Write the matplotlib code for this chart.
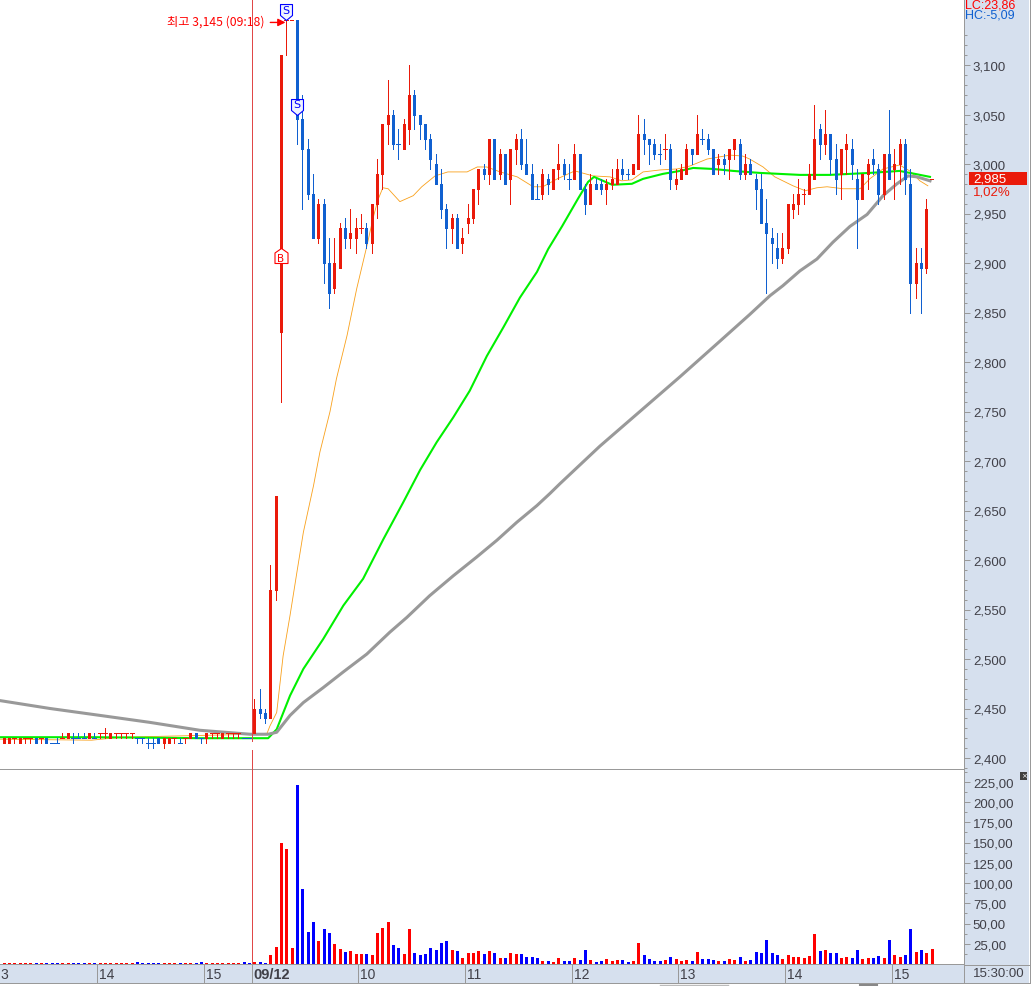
import numpy as np
import matplotlib
matplotlib.use('Agg')
import matplotlib.pyplot as plt
from matplotlib.path import Path
from matplotlib.patches import Rectangle
from matplotlib.lines import Line2D
from matplotlib.transforms import blended_transform_factory

W, H = 1031, 987

# previous session (3 minute bars, index -48 .. -1)
prev_high = [2420, 2420, 2420, 2420, 2420, 2420, 2420, 2420, 2420, 2420,
             2415, 2420, 2425, 2425, 2425, 2425, 2425, 2425, 2425, 2425,
             2430, 2425, 2425, 2425, 2425, 2425, 2420, 2420, 2420, 2420,
             2420, 2420, 2420, 2420, 2420, 2420, 2425, 2425, 2420, 2425,
             2425, 2425, 2425, 2425, 2425, 2425, 2420, 2420]
prev_low = [2415, 2415, 2415, 2415, 2415, 2415, 2415, 2415, 2415, 2415,
            2415, 2415, 2420, 2420, 2415, 2420, 2420, 2420, 2420, 2420,
            2420, 2420, 2420, 2420, 2420, 2420, 2415, 2415, 2410, 2410,
            2415, 2410, 2415, 2415, 2415, 2415, 2420, 2420, 2415, 2415,
            2420, 2420, 2420, 2420, 2420, 2420, 2420, 2420]
prev_top = [2420, 2420, 2420, 2420, 2420, 2420, 2420, 2420, 2420, 2420,
            2415, 2415, 2420, 2425, 2420, 2420, 2420, 2425, 2420, 2425,
            2425, 2425, 2425, 2425, 2425, 2425, 2420, 2420, 2415, 2415,
            2420, 2420, 2420, 2420, 2415, 2420, 2425, 2425, 2420, 2425,
            2425, 2425, 2425, 2425, 2425, 2425, 2420, 2420]
prev_bot = [2415, 2415, 2415, 2420, 2415, 2420, 2420, 2415, 2420, 2415,
            2415, 2415, 2420, 2420, 2420, 2420, 2420, 2420, 2420, 2425,
            2425, 2420, 2425, 2425, 2425, 2425, 2420, 2420, 2415, 2415,
            2415, 2415, 2415, 2420, 2415, 2420, 2420, 2420, 2420, 2420,
            2425, 2425, 2420, 2425, 2425, 2425, 2420, 2420]
prev_dir = 'brrrrrrbrb' 'bbrrbbbrbr' 'rrrrrrbbbb' 'brrrbrrbbr' 'rrrrrrbb'
prev_vol = [1.2, 1.2, 1.2, 1.2, 1.2, 1.2, 1.2, 1.2, 1.2, 1.2,
            1.2, 1.2, 1.2, 1.2, 1.2, 1.2, 1.2, 1.2, 1.2, 1.2,
            1.2, 1.2, 1.2, 1.2, 1.2, 1.2, 3.0, 1.2, 1.2, 1.2,
            1.2, 1.2, 1.2, 1.2, 1.2, 1.2, 1.2, 1.2, 3.0, 1.2,
            1.2, 1.2, 1.2, 1.2, 1.2, 1.2, 3.0, 1.6]

# 09/12 session (index 0 .. 127)
day_high = [2460, 2470, 2450, 2595, 2665, 3110, 3145, 3145, 3145, 3070,
            3025, 2990, 2965, 2965, 2925, 2925, 2940, 2945, 2955, 2945,
            2950, 2940, 2960, 3005, 3040, 3085, 3055, 3035, 3045, 3100,
            3075, 3050, 3040, 3030, 3010, 2995, 2960, 2950, 2950, 2935,
            2960, 2975, 2995, 3000, 3025, 3025, 3015, 3010, 3015, 3030,
            3035, 3025, 3000, 2980, 2995, 2990, 2995, 3020, 3005, 3000,
            3020, 3010, 2980, 2990, 2985, 2985, 2985, 2995, 3005, 3005,
            2995, 3000, 3050, 3045, 3025, 3025, 3020, 3030, 3020, 2995,
            3000, 3020, 3015, 3050, 3035, 3030, 3015, 3010, 3010, 3015,
            3025, 3025, 3010, 3005, 2990, 2990, 2965, 2935, 2930, 2930,
            2960, 2970, 2985, 2975, 3000, 3060, 3040, 3055, 3030, 3020,
            3015, 3030, 3025, 2995, 2990, 3005, 3015, 3000, 3010, 3055,
            3015, 3025, 3025, 2995, 2915, 2915, 2965, 2985]
day_low = [2425, 2440, 2435, 2440, 2560, 2760, 3110, 3145, 3020, 2955,
           2965, 2925, 2920, 2880, 2855, 2870, 2895, 2915, 2915, 2910,
           2930, 2915, 2910, 2945, 2975, 3020, 3015, 3005, 3015, 3020,
           3035, 3025, 3015, 2995, 2980, 2945, 2915, 2920, 2915, 2910,
           2930, 2940, 2960, 2985, 2980, 2985, 2985, 2980, 2960, 3000,
           2995, 2990, 2965, 2965, 2965, 2970, 2975, 2985, 2985, 2975,
           2985, 2975, 2950, 2960, 2975, 2970, 2960, 2975, 2980, 2985,
           2985, 2990, 2995, 3010, 3000, 3005, 3000, 3005, 2975, 2975,
           2985, 2990, 3000, 3010, 3020, 3010, 2990, 2990, 2990, 2985,
           3005, 2985, 2985, 2990, 2955, 2940, 2870, 2900, 2895, 2900,
           2910, 2945, 2950, 2960, 2970, 2985, 3005, 3010, 2990, 2970,
           2965, 2990, 2985, 2915, 2965, 2975, 2990, 2960, 2965, 2985,
           2965, 2980, 2970, 2850, 2865, 2850, 2890, 2985]
day_top = [2450, 2450, 2445, 2570, 2665, 3110, 3145, 3145, 3145, 3045,
           3015, 2970, 2960, 2960, 2900, 2900, 2935, 2935, 2930, 2935,
           2935, 2935, 2960, 2990, 3040, 3050, 3050, 3020, 3040, 3070,
           3070, 3050, 3040, 3025, 3000, 2980, 2955, 2945, 2945, 2925,
           2945, 2975, 2995, 2995, 3025, 3025, 3010, 3010, 3015, 3025,
           3025, 3000, 2990, 2965, 2990, 2985, 2995, 3000, 3000, 2985,
           3010, 3010, 2975, 2980, 2980, 2980, 2980, 2985, 2995, 2995,
           2990, 3000, 3030, 3030, 3025, 3020, 3010, 3015, 3015, 2985,
           2995, 3015, 3015, 3030, 3025, 3025, 3015, 3005, 3005, 3015,
           3025, 3020, 3000, 3000, 2985, 2975, 2940, 2925, 2915, 2915,
           2960, 2960, 2970, 2970, 2990, 3025, 3035, 3030, 3030, 3005,
           3015, 3020, 3015, 2985, 2990, 3000, 3005, 2995, 3010, 3010,
           3000, 3020, 3020, 2980, 2900, 2900, 2955, 2985]
day_bot = [2425, 2445, 2440, 2440, 2570, 2830, 3145, 3145, 3045, 3015,
           2970, 2925, 2925, 2900, 2870, 2875, 2895, 2925, 2925, 2925,
           2935, 2920, 2920, 2960, 2990, 3040, 3020, 3020, 3015, 3035,
           3050, 3040, 3025, 3005, 2980, 2955, 2935, 2935, 2915, 2920,
           2940, 2945, 2975, 2990, 2990, 2985, 2990, 2980, 2985, 3015,
           3000, 2990, 2965, 2965, 2970, 2980, 2975, 2995, 2990, 2985,
           2985, 2975, 2960, 2960, 2975, 2975, 2975, 2980, 2980, 2990,
           2990, 2990, 2995, 3025, 3020, 3010, 3010, 3015, 2985, 2980,
           2985, 2990, 3010, 3010, 3025, 3015, 2990, 3000, 3000, 3005,
           3015, 2990, 2990, 2990, 2975, 2940, 2930, 2920, 2905, 2905,
           2915, 2955, 2960, 2970, 2970, 2985, 3020, 3020, 3005, 2985,
           2990, 3015, 3000, 2965, 2965, 2990, 3000, 2970, 2970, 2985,
           2995, 3000, 2985, 2880, 2880, 2895, 2895, 2985]
day_dir = ('rbbrrrrrbb' 'bbrbbrrbrr' 'rbrrrrbbrr' 'bbbbbbbrbr'
           'rrrbrbrbrr' 'bbbbrbrrbb' 'rbbrbbrrrb' 'brrbbbbrbr'
           'rrbrbbbrbr' 'rbrbbbbbbr' 'rrrrrrbrbb' 'rrbbrrbbrb'
           'rrbbrbrr')
day_vol = [2.5, 2.5, 1.2, 11, 21, 149, 142, 20, 221, 92.6,
           39.5, 52, 28.4, 43, 38, 24.7, 18.5, 15, 16, 12.3,
           12.3, 12.3, 11, 38, 44, 52, 23.5, 20, 12, 43,
           13.6, 11, 12, 20, 17, 26, 28, 17, 16, 7.4,
           13.6, 13.6, 16, 12, 16, 13.6, 7.4, 7.4, 13.6, 12,
           12, 8.6, 8.6, 7.4, 3.7, 3.7, 2.5, 7.4, 3.7, 3.7,
           7.4, 5, 17, 5, 2.5, 3.7, 6, 3.7, 5, 5,
           2.5, 3.7, 26, 11, 6, 3.7, 3.7, 5, 8.6, 6,
           3.7, 5, 3.7, 15, 6, 6, 5, 3.7, 3.7, 6,
           5, 8.6, 3.7, 5, 15, 13.6, 30, 13.6, 11, 6,
           11, 8.6, 8.6, 7.4, 10, 37, 16, 17, 13.6, 13.6,
           7.4, 8.6, 7.4, 17, 6, 7.4, 7.4, 10, 7.4, 30,
           11, 8.6, 11, 43, 15, 17, 13.6, 18.5]

# moving averages, read as bar index / price pairs
gray_x = [-47.7, -38.3, -28.9, -19.6, -10.2, -0.8, 2.6, 4.2, 6.7, 9.2, 12.9, 16.7, 21.1,
          25.4, 28.6, 32.9, 37.3, 41.7, 45.5, 49.2, 53, 55.4, 57.3, 64.8, 72.3, 79.8,
          87.3, 92.9, 96.7, 99.1, 102.3, 105.5, 108.5, 111.7, 114.9, 117.9, 120.5,
          122.6, 124.3, 126.7]
gray_y = [2458, 2450, 2443, 2436, 2428, 2424, 2424, 2426, 2443, 2456, 2471, 2487, 2505,
          2527, 2542, 2564, 2584, 2603, 2620, 2638, 2655, 2667, 2677, 2715, 2750, 2785,
          2821, 2848, 2867, 2877, 2892, 2904, 2921, 2937, 2949, 2968, 2980,
          2988, 2987, 2983]
green_x = [-47.7, -30, -10, 2.6, 4.2, 6.7, 9.2, 12.9, 16.7, 20.4, 24.2, 27.9, 31.1, 34.2,
           37.3, 40.4, 43.6, 46.7, 49.8, 53, 55.1, 57.7, 60.7, 62.6, 63.7, 67.1, 70.8,
           72.9, 76.6, 79.8, 82.3, 86, 89.8, 94.8, 102.3, 107.9, 115.4, 121, 123.9, 126.7]
green_y = [2421, 2421, 2420, 2420, 2429, 2463, 2490, 2520, 2554, 2581, 2621, 2658, 2691,
           2719, 2744, 2771, 2806, 2835, 2865, 2891, 2914, 2937, 2965, 2982, 2987, 2979,
           2980, 2985, 2990, 2993, 2996, 2995, 2993, 2991, 2989, 2989, 2991, 2993, 2990, 2987]
orange_x = [-47.7, -30.5, -25, 0, 2.4, 2.9, 4.2, 5.4, 6.7, 8, 9.2, 11.1, 12.3, 14.2, 15.4,
            17.4, 19.2, 21.1, 22.3, 23.2, 24.1, 25.1, 27.3, 29.8, 31.4, 33.9, 36.3, 39.9,
            41.8, 43.6, 46.1, 49.3, 52.3, 54.1, 56.8, 60.1, 63.5, 66.7, 68.9, 70.8, 72.9,
            76.1, 79.3, 81.7, 84.9, 89.2, 91.6, 92.9, 95.4, 97.6, 101, 103.3, 105.5, 107.4,
            110.4, 113.6, 115.4, 117.9, 121, 122.9, 124.8, 126.3]
orange_y = [2419, 2418, 2421, 2424, 2425, 2432, 2446, 2503, 2544, 2588, 2628, 2675, 2709,
            2750, 2783, 2827, 2874, 2917, 2946, 2964, 2976, 2975, 2962, 2968, 2977, 2988,
            2992, 2992, 2997, 2997, 2992, 2987, 2977, 2977, 2985, 2993, 2988, 2987, 2983,
            2984, 2992, 2994, 2995, 2998, 3005, 3009, 3008, 3005, 2997, 2987, 2978, 2973,
            2976, 2977, 2975, 2975, 2985, 2995, 2999, 2993, 2983, 2978]

price_ticks = list(range(2400, 3101, 50))
vol_ticks = [25, 50, 75, 100, 125, 150, 175, 200, 225]
time_pos = [-29, -9, 0, 20, 40, 60, 80, 100, 120]
time_labels = ['14', '15', '09/12', '10', '11', '12', '13', '14', '15']

# trade signals: bar index, price at the marker tip, letter
sell_signals = [(6, 3145, 'S'), (8, 3050, 'S')]
buy_signals = [(5, 2915, 'B')]
last_price = 2985

RED, BLUE = '#ea1a0a', '#1060d0'
VOL_RED, VOL_BLUE = '#ff0000', '#0000ff'
PANEL = '#d6e0ee'
EDGE = '#999999'
TEXT = '#404048'
TICK_FONT = ['Liberation Sans Narrow', 'Liberation Sans']
KR_FONT = ['Noto Sans CJK KR', 'DejaVu Sans']
ONE_PX = 0.72


def px_rect(left, top, right, bottom):
    return [left / W, 1 - bottom / H, (right - left) / W, (bottom - top) / H]


def draw_candles(ax, idx, high, low, top, bot, colors):
    ax.vlines(idx, low, high, colors=colors, lw=ONE_PX, zorder=3, antialiased=False)
    solid = top > bot
    ax.vlines(idx[solid], bot[solid], top[solid], colors=colors[solid], lw=3 * ONE_PX,
              zorder=3, antialiased=False, capstyle='butt')
    ax.hlines(top[~solid], idx[~solid] - 0.35, idx[~solid] + 0.35,
              colors=colors[~solid], lw=ONE_PX, zorder=3, antialiased=False)


idx = np.arange(-48, 128)
high = np.array(prev_high + day_high, dtype=float)
low = np.array(prev_low + day_low, dtype=float)
top = np.array(prev_top + day_top, dtype=float)
bot = np.array(prev_bot + day_bot, dtype=float)
dirs = np.array(list(prev_dir + day_dir))
vol = np.array(prev_vol + day_vol, dtype=float)
candle_colors = np.where(dirs == 'r', RED, BLUE)
vol_colors = np.where(dirs == 'r', VOL_RED, VOL_BLUE)

x0 = (0 - 254.3) / 5.333
x1 = (964 - 254.3) / 5.333

fig = plt.figure(figsize=(W / 100, H / 100), dpi=100, facecolor='white')
fig.add_artist(Rectangle((964 / W, 1 - 984 / H), 65 / W, 984 / H, transform=fig.transFigure,
                         facecolor=PANEL, edgecolor='none', zorder=-1))
fig.add_artist(Line2D([1029.5 / W] * 2, [1 - 984 / H, 1], color=EDGE, lw=ONE_PX, zorder=0))
fig.add_artist(Line2D([660 / W, 728 / W], [1 - 985.5 / H] * 2, color='#bbbbbb', lw=1, zorder=0))
fig.add_artist(Line2D([860 / W, 877 / W], [1 - 985.5 / H] * 2, color='#888888', lw=1.5, zorder=0))

ax = fig.add_axes(px_rect(0, 0, 964, 770))
ax_vol = fig.add_axes(px_rect(0, 770, 964, 965))
ax_time = fig.add_axes(px_rect(0, 965, 964, 984))

# price pane
ax.plot(orange_x, orange_y, color='#f9a01a', lw=0.6, zorder=2)
ax.plot(green_x, green_y, color='#00f000', lw=1.5, zorder=2)
ax.plot(gray_x, gray_y, color='#999999', lw=2.2, zorder=2)
draw_candles(ax, idx, high, low, top, bot, candle_colors)
ax.set_xlim(x0, x1)
ax.set_ylim(3100 - 704 / 0.99, 3100 + 66 / 0.99)
ax.set_xticks([])
ax.yaxis.tick_right()
ax.set_yticks(price_ticks)
ax.set_yticklabels([f'{v:,}' for v in price_ticks], family=TICK_FONT, fontsize=9.5, color=TEXT)
ax.set_yticks(np.arange(2390, 3131, 10), minor=True)
ax.tick_params(axis='y', which='major', length=4.4, width=ONE_PX, color=EDGE, pad=2)
ax.tick_params(axis='y', which='minor', length=1.8, width=ONE_PX, color=EDGE)
for name in ['top', 'left', 'bottom']:
    ax.spines[name].set_visible(False)
ax.spines['right'].set_color(EDGE)
ax.spines['right'].set_linewidth(ONE_PX)

# cross hair of the session start, with the small gap it has near the old prices
ax.vlines(-0.38, 2417, ax.get_ylim()[1], color='#e04848', lw=ONE_PX, zorder=4, antialiased=False)
ax.vlines(-0.38, ax.get_ylim()[0], 2408, color='#e04848', lw=ONE_PX, zorder=4, antialiased=False)

# signal markers, tip on the price
sell_shape = Path([(0, 0), (-6, 5), (-6, 16), (6, 16), (6, 5), (0, 0)], closed=True)
buy_shape = Path([(0, 0), (-6.5, -4.5), (-6.5, -15), (6.5, -15), (6.5, -4.5), (0, 0)], closed=True)
for bar_no, price, letter in sell_signals:
    ax.plot(bar_no, price, marker=sell_shape, ms=23, mfc='#eef4ff', mec=VOL_BLUE, mew=0.8,
            zorder=6, clip_on=False)
    ax.annotate(letter, (bar_no, price), xytext=(0, 7.5), textcoords='offset points',
                ha='center', va='center', fontsize=8, color=VOL_BLUE, family='DejaVu Sans', zorder=7)
for bar_no, price, letter in buy_signals:
    ax.plot(bar_no, price, marker=buy_shape, ms=21.6, mfc='white', mec=VOL_RED, mew=0.8, zorder=6)
    ax.annotate(letter, (bar_no, price), xytext=(0, -7), textcoords='offset points',
                ha='center', va='center', fontsize=7.5, color=VOL_RED, family='DejaVu Sans', zorder=7)

# high water mark label
ax.annotate('', (5.85, 3143), xytext=(3, 3143),
            arrowprops=dict(arrowstyle='-|>', color=VOL_RED, lw=1, shrinkA=0, shrinkB=0,
                            mutation_scale=11), zorder=5)
ax.text(2.0, 3144, '최고 3,145 (09:18)', ha='right', va='center', fontsize=8.8,
        color=VOL_RED, family=KR_FONT, zorder=5)

# last price tag on the axis panel
side = blended_transform_factory(ax.transAxes, ax.transData)
ax.add_patch(Rectangle((969 / 964, last_price - 6), 58 / 964, 13, transform=side,
                       facecolor=RED, edgecolor='none', clip_on=False, zorder=6))
ax.text(973 / 964, last_price, f'{last_price:,}', transform=side, ha='left', va='center',
        family=TICK_FONT, fontsize=9.5, color='white', zorder=7, clip_on=False)
ax.text(973 / 964, last_price - 12.5, '1,02%', transform=side, ha='left', va='center',
        family=TICK_FONT, fontsize=9.5, color=RED, zorder=7, clip_on=False)
fig.text(965 / W, 1 - 5 / H, 'LC:23,86', ha='left', va='center', family=TICK_FONT,
         fontsize=9, color=VOL_RED)
fig.text(965 / W, 1 - 16 / H, 'HC:-5,09', ha='left', va='center', family=TICK_FONT,
         fontsize=9, color=BLUE)

# volume pane
ax_vol.vlines(idx, 0, vol, colors=vol_colors, lw=3 * ONE_PX, antialiased=False, capstyle='butt')
ax_vol.vlines(-0.38, 0, 241, color='#e04848', lw=ONE_PX, zorder=4, antialiased=False)
ax_vol.set_xlim(x0, x1)
ax_vol.set_ylim(0, 195 / 0.81)
ax_vol.set_xticks([])
ax_vol.yaxis.tick_right()
ax_vol.set_yticks(vol_ticks)
ax_vol.set_yticklabels([f'{v},00' for v in vol_ticks], family=TICK_FONT, fontsize=9.5, color=TEXT)
ax_vol.set_yticks(np.arange(12.5, 240, 25), minor=True)
ax_vol.tick_params(axis='y', which='major', length=4.4, width=ONE_PX, color=EDGE, pad=2)
ax_vol.tick_params(axis='y', which='minor', length=1.8, width=ONE_PX, color=EDGE)
for name in ['left', 'bottom']:
    ax_vol.spines[name].set_visible(False)
for name in ['top', 'right']:
    ax_vol.spines[name].set_color(EDGE)
    ax_vol.spines[name].set_linewidth(ONE_PX)
ax_vol.text(1023.5 / 964, 0.966, '×', transform=ax_vol.transAxes, ha='center', va='center',
            fontsize=5, color='white', zorder=8, clip_on=False,
            bbox=dict(boxstyle='square,pad=0.15', facecolor='#404040', edgecolor='none'))

# time strip
ax_time.set_facecolor(PANEL)
ax_time.set_xlim(x0, x1)
ax_time.set_ylim(0, 1)
ax_time.set_xticks([])
ax_time.set_yticks([])
ax_time.vlines(np.array(time_pos) - 0.5, 0, 1, color=EDGE, lw=ONE_PX, antialiased=False)
ax_time.text(x0 + 0.05, 0.46, '3', ha='left', va='center', family=TICK_FONT, fontsize=10, color=TEXT)
for pos, label in zip(time_pos, time_labels):
    ax_time.text(pos - 0.1, 0.46, label, ha='left', va='center', family=TICK_FONT,
                 fontsize=10 if label != '09/12' else 10.5,
                 fontweight='bold' if label == '09/12' else 'normal', color=TEXT)
for name in ax_time.spines:
    ax_time.spines[name].set_color(EDGE)
    ax_time.spines[name].set_linewidth(ONE_PX)
ax_time.spines['left'].set_visible(False)
fig.text(973 / W, 1 - 974 / H, '15:30:00', ha='left', va='center', family=TICK_FONT,
         fontsize=9.5, color=TEXT)
fig.add_artist(Line2D([964 / W, 1029.5 / W], [1 - 984 / H] * 2, color=EDGE, lw=ONE_PX))
fig.add_artist(Line2D([964 / W, 1029.5 / W], [1 - 965.5 / H] * 2, color=EDGE, lw=ONE_PX))

fig.savefig('out.png', dpi=100)
